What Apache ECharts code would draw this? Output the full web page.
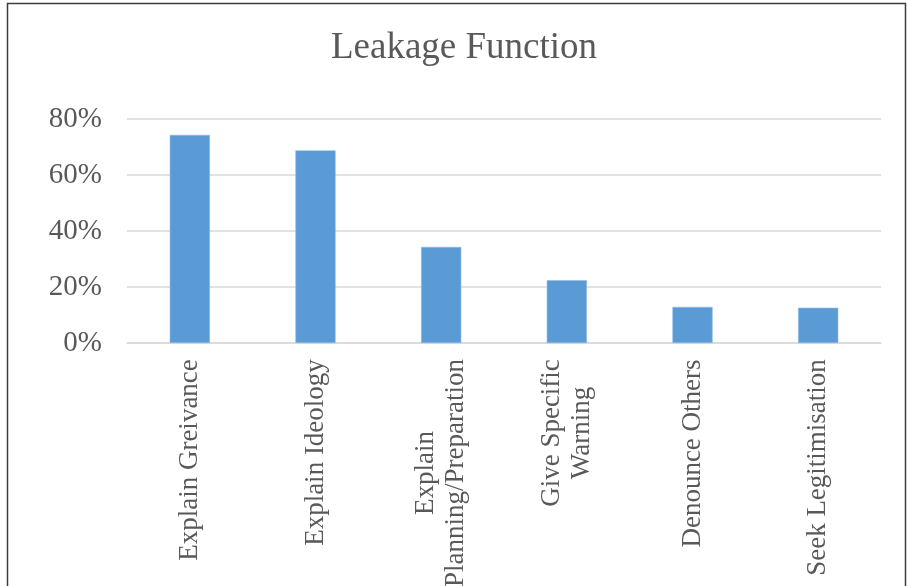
<!DOCTYPE html>
<html>
<head>
<meta charset="utf-8">
<title>Leakage Function</title>
<script src="https://cdn.jsdelivr.net/npm/echarts@6/dist/echarts.min.js"></script>
<style>
  html, body { margin: 0; padding: 0; background: #ffffff; overflow: hidden; }
  #chart { width: 907px; height: 586px; }
</style>
</head>
<body>
<div id="chart"></div>
<script>
// Share of cases showing each leakage function
const categories = [
  'Explain Greivance',
  'Explain Ideology',
  'Explain\nPlanning/Preparation',
  'Give Specific\nWarning',
  'Denounce Others',
  'Seek Legitimisation'
];
const values = [74.3, 68.8, 34.3, 22.4, 12.9, 12.6];
const yTicks = [0, 20, 40, 60, 80];

const SERIF = '"Liberation Serif", "Times New Roman", serif';
const TEXT = '#595959';
const LABEL_SIZE = 27;

// Measure each category's widest line so wrapped labels can be centred line by line
const ctx = document.createElement('canvas').getContext('2d');
ctx.font = LABEL_SIZE + 'px ' + SERIF;
const rich = {};
categories.forEach((c, i) => {
  const w = Math.max(...c.split('\n').map(s => ctx.measureText(s).width));
  rich['c' + i] = {
    width: Math.ceil(w) + 2,
    align: 'center',
    fontFamily: SERIF,
    fontSize: LABEL_SIZE,
    color: TEXT,
    lineHeight: 30
  };
});

const chart = echarts.init(document.getElementById('chart'), null, { renderer: 'canvas' });
chart.setOption({
  animation: false,
  backgroundColor: '#ffffff',
  title: {
    text: 'Leakage Function',
    left: 459,
    top: 25,
    textAlign: 'center',
    textStyle: { fontFamily: SERIF, fontSize: 37, fontWeight: 'normal', color: TEXT }
  },
  graphic: [{
    type: 'rect',
    silent: true,
    shape: { x: 7.5, y: 3.5, width: 898, height: 620 },
    style: { fill: 'none', stroke: '#3c3c3c', lineWidth: 1.5 }
  }],
  grid: {
    left: 127, right: 26, top: 119, bottom: 243,
    containLabel: false,
    outerBoundsMode: 'none'
  },
  xAxis: {
    type: 'category',
    data: categories,
    axisLine: { lineStyle: { color: '#d9d9d9', width: 1.5 } },
    axisTick: { show: false },
    axisLabel: {
      rotate: 90,
      interval: 0,
      margin: 15,
      formatter: (v, idx) => v.split('\n').map(s => '{c' + idx + '|' + s + '}').join('\n'),
      rich: rich
    }
  },
  yAxis: {
    type: 'value',
    min: yTicks[0],
    max: yTicks[yTicks.length - 1],
    interval: yTicks[1] - yTicks[0],
    axisLine: { show: false },
    axisTick: { show: false },
    splitLine: { lineStyle: { color: '#d9d9d9', width: 1.5 } },
    axisLabel: {
      margin: 25,
      formatter: '{value}%',
      fontFamily: SERIF,
      fontSize: 29,
      color: TEXT
    }
  },
  series: [{
    type: 'bar',
    data: values,
    barWidth: '32%',
    itemStyle: { color: '#5b9bd5', borderColor: '#8dbbe6', borderWidth: 0.6 }
  }]
});
</script>
</body>
</html>
